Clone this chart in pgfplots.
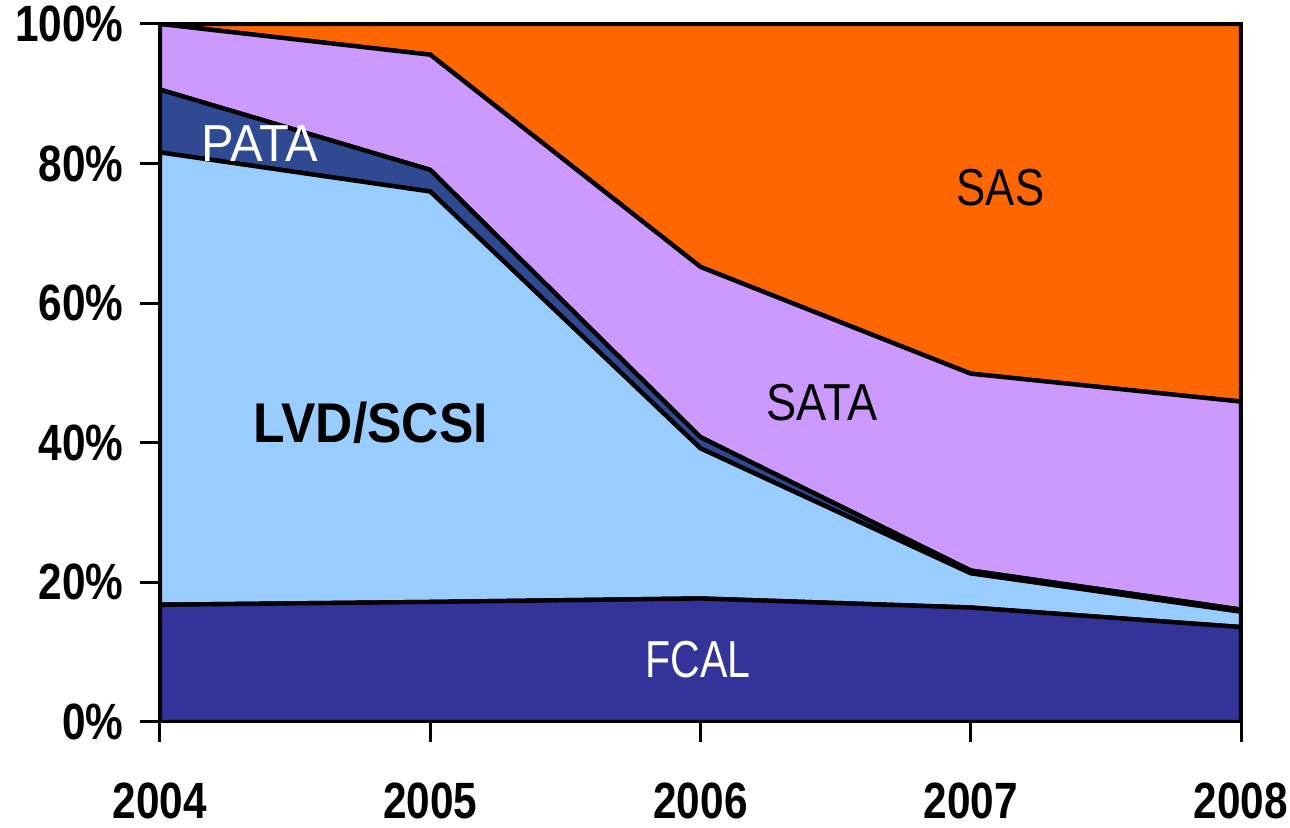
\documentclass[border=0pt]{standalone}
\usepackage{pgfplots}
\pgfplotsset{compat=1.18}
\usepackage{graphicx}
\usepackage{fontspec}
\setmainfont{Liberation Sans}
\definecolor{sas}{HTML}{FF6600}
\definecolor{sata}{HTML}{CC99FF}
\definecolor{pata}{HTML}{2F4A93}
\definecolor{lvd}{HTML}{99CCFF}
\definecolor{fcal}{HTML}{333399}
\newcommand{\tl}[1]{\scalebox{0.83}[1]{\fontsize{25.5}{26}\selectfont\bfseries #1}}
\newcommand{\lab}[2][0.82]{\scalebox{#1}[1]{\fontsize{26}{28}\selectfont #2}}
\begin{document}
\begin{tikzpicture}
\begin{axis}[
  at={(0,0)}, anchor=south west,
  scale only axis, width=540.5pt, height=349pt,
  xmin=2004, xmax=2008, ymin=0, ymax=100,
  xtick={2004,2005,2006,2007,2008},
  xticklabels={\tl{2004},\tl{2005},\tl{2006},\tl{2007},\tl{2008}},
  ytick={0,20,40,60,80,100},
  yticklabels={\tl{0\%},\tl{20\%},\tl{40\%},\tl{60\%},\tl{80\%},\tl{100\%}},
  xticklabel style={anchor=north, inner sep=0pt, yshift=-20pt},
  yticklabel style={anchor=east, inner sep=0pt, xshift=-8pt},
  stack plots=y,
  axis on top,
  axis line style={line width=1.5pt},
  tick style={black, line width=1.5pt},
  tick align=outside, major tick length=10pt,
  xtick pos=bottom, ytick pos=left,
]
\addplot[fill=fcal, draw=black, line width=2.2pt] coordinates {(2004,16.8) (2005,17.2) (2006,17.7) (2007,16.4) (2008,13.6)} \closedcycle;
\addplot[fill=lvd, draw=black, line width=2.2pt] coordinates {(2004,64.8) (2005,58.8) (2006,21.5) (2007,4.9) (2008,2.2)} \closedcycle;
\addplot[fill=pata, draw=black, line width=2.2pt] coordinates {(2004,9.0) (2005,3.1) (2006,1.6) (2007,0.4) (2008,0.3)} \closedcycle;
\addplot[fill=sata, draw=black, line width=2.2pt] coordinates {(2004,9.4) (2005,16.5) (2006,24.4) (2007,28.2) (2008,29.8)} \closedcycle;
\addplot[fill=sas, draw=black, line width=2.2pt] coordinates {(2004,0) (2005,4.4) (2006,34.8) (2007,50.1) (2008,54.1)} \closedcycle;
\coordinate (pPATA) at (axis cs:2004.37,82.9);
\coordinate (pLVD) at (axis cs:2004.78,42.8);
\coordinate (pFCAL) at (axis cs:2005.99,8.9);
\coordinate (pSAS) at (axis cs:2007.11,76.5);
\coordinate (pSATA) at (axis cs:2006.45,45.7);
\end{axis}
\node[white] at (pPATA) {\lab[0.94]{PATA}};
\node[black] at (pLVD) {\scalebox{0.92}[1]{\fontsize{28}{30}\selectfont\bfseries LVD/SCSI}};
\node[white] at (pFCAL) {\lab[0.79]{FCAL}};
\node[black] at (pSAS) {\lab[0.84]{SAS}};
\node[black] at (pSATA) {\lab[0.87]{SATA}};
\pgfresetboundingbox
\path (-80pt,-53pt) rectangle (565pt,361pt);
\end{tikzpicture}
\end{document}
